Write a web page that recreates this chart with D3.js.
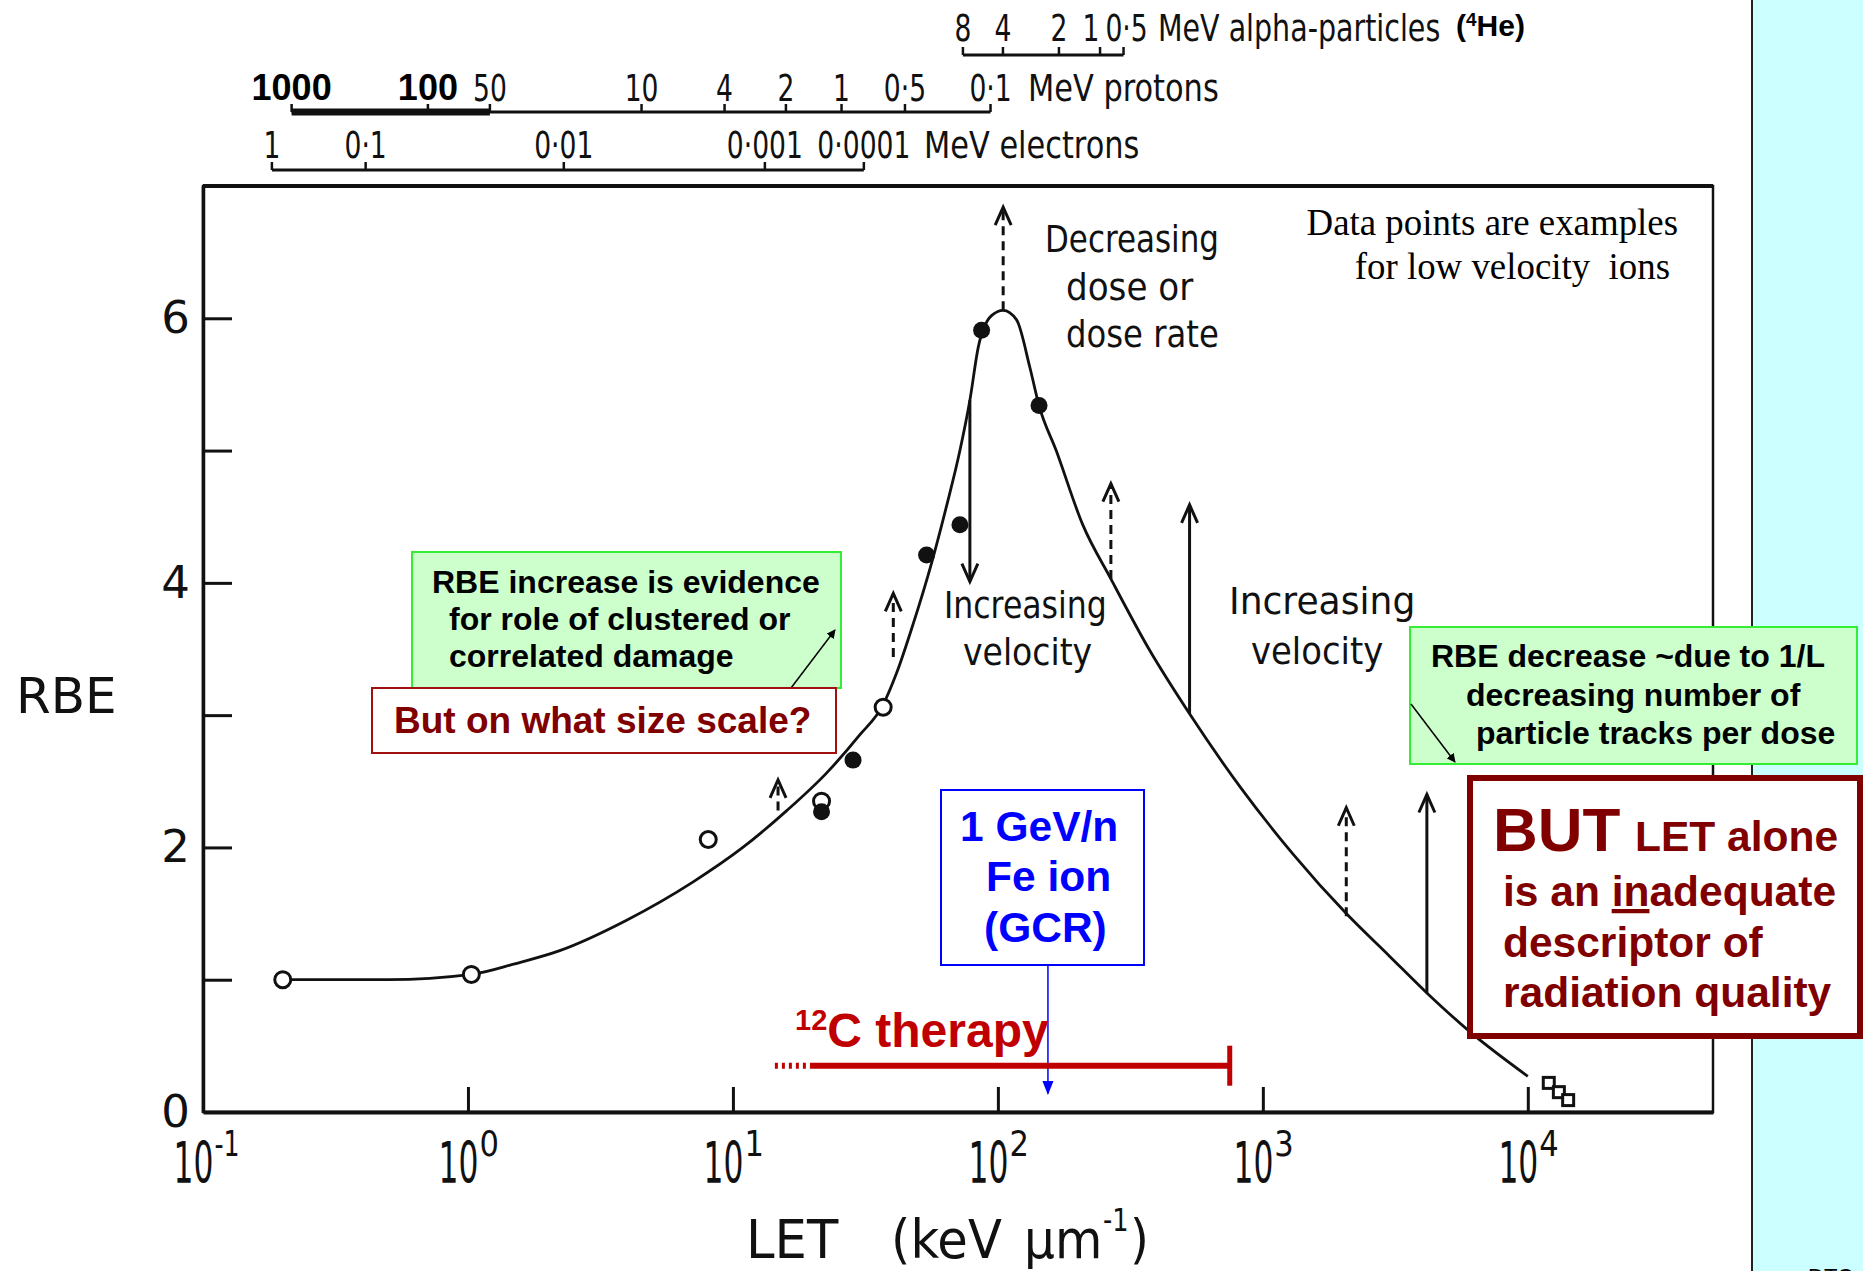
<!DOCTYPE html>
<html>
<head>
<meta charset="utf-8">
<script src="https://cdn.jsdelivr.net/npm/d3@7"></script>
<style>
  body { margin: 0; background: #fff; }
  svg { display: block; }
</style>
</head>
<body>
<div id="chart"></div>
<script>
// RBE curve
const curveLET = [0.2, 0.5, 1.03, 1.5, 2.22, 3.97, 7.08, 10.9, 16, 22.5, 30.1, 36.9, 41.5, 47.9, 56.2, 64, 71.9, 78.4, 84.3, 94.6, 104.7, 117.5, 132, 143, 166, 209, 267, 374, 529, 826, 1300, 2065, 3000, 4160, 6100, 10000];
const curveRBE = [1.0, 1.0, 1.04, 1.12, 1.22, 1.45, 1.74, 2.0, 2.28, 2.56, 2.85, 3.08, 3.32, 3.69, 4.15, 4.58, 5.0, 5.38, 5.78, 6.02, 6.06, 5.99, 5.63, 5.34, 5.0, 4.44, 4.03, 3.49, 3.01, 2.45, 1.95, 1.5, 1.18, 0.9, 0.6, 0.27];

// data points
const openLET = [0.2, 1.03, 8.07, 36.9, 21.6];
const openRBE = [1.0, 1.04, 2.06, 3.06, 2.35];
const fillLET = [21.6, 28.4, 53.8, 71.9, 86.8, 143];
const fillRBE = [2.27, 2.66, 4.21, 4.44, 5.91, 5.34];
const sqLET = [12000, 13100, 14200];
const sqRBE = [0.22, 0.15, 0.09];

// vertical arrows (dose / velocity effects)
const arrowLET = [104.7, 78.4, 40.3, 14.8, 267, 529, 2065, 4160];
const arrowFrom = [6.06, 5.38, 3.44, 2.28, 4.03, 3.01, 1.48, 0.9];
const arrowTo = [6.84, 4.01, 3.92, 2.51, 4.75, 4.59, 2.30, 2.40];
const arrowDashed = [true, false, true, true, true, false, true, false];

// axes
const xTicks = [0.1, 1, 10, 100, 1000, 10000];
const xTickExp = ["-1", "0", "1", "2", "3", "4"];
const yTicks = [0, 1, 2, 3, 4, 5, 6];
const yLabels = [0, 2, 4, 6];

// energy scales on top (MeV label, LET position)
const alphaMeV = ["8", "4", "2", "1", "0·5"];
const alphaLET = [73.8, 104.5, 170, 243, 298];
const protonMeV = ["1000", "100", "50", "10", "4", "2", "1", "0·5", "0·1"];
const protonLET = [0.216, 0.706, 1.21, 4.52, 9.3, 15.85, 25.7, 44.6, 93.8];
const electronMeV = ["1", "0·1", "0·01", "0·001", "0·0001"];
const electronLET = [0.182, 0.411, 2.30, 13.2, 31.2];

// carbon therapy range and Fe ion
const carbonLET = [14.4, 19.7, 750];
const carbonRBE = 0.35;
const feLET = 154.5;
const feRBE = [1.11, 0.14];

const W = 1863, H = 1271;
const HAND = "DejaVu Sans";
const BOLD = "Liberation Sans, Arial, sans-serif";
const MAROON = "#800000";

const svg = d3.select("#chart").append("svg")
  .attr("width", W).attr("height", H)
  .style("background", "#fff");

const defs = svg.append("defs");
defs.append("marker").attr("id", "ahBlack")
  .attr("viewBox", "0 0 10 10").attr("refX", 9).attr("refY", 5)
  .attr("markerWidth", 9).attr("markerHeight", 9)
  .attr("markerUnits", "userSpaceOnUse").attr("orient", "auto")
  .append("path").attr("d", "M0,0 L10,5 L0,10 z").attr("fill", "#000");
defs.append("marker").attr("id", "ahBlue")
  .attr("viewBox", "0 0 10 10").attr("refX", 9).attr("refY", 5)
  .attr("markerWidth", 14).attr("markerHeight", 14)
  .attr("markerUnits", "userSpaceOnUse").attr("orient", "auto")
  .append("path").attr("d", "M0,1 L10,5 L0,9 z").attr("fill", "#0000ff");

// cyan side panel
svg.append("rect").attr("x", 1752).attr("y", 0).attr("width", W - 1752).attr("height", H)
  .attr("fill", "#ccffff");
svg.append("line").attr("x1", 1752).attr("x2", 1752).attr("y1", 0).attr("y2", H)
  .attr("stroke", "#222").attr("stroke-width", 2);
svg.append("text").attr("x", 1808).attr("y", 1284).attr("font-family", "Liberation Sans")
  .attr("font-size", 22).text("DTC");

// scales
const x = d3.scaleLog().domain([0.1, 50000]).range([203, 1713]);
const y = d3.scaleLinear().domain([0, 7]).range([1112, 186]);

// lettering helper: condensed technical-drawing style text
function letter(sel, px, py, txt, size, sx, anchor) {
  const g = sel.append("g").attr("transform", `translate(${px},${py}) scale(${sx},1)`);
  g.append("text").attr("font-family", HAND).attr("font-size", size)
    .attr("text-anchor", anchor || "start").attr("fill", "#111").text(txt);
  return g;
}

// frame
const plot = svg.append("g");
plot.append("rect").attr("x", x.range()[0]).attr("y", y(7))
  .attr("width", x.range()[1] - x.range()[0]).attr("height", y(0) - y(7))
  .attr("fill", "none").attr("stroke", "#111").attr("stroke-width", 2.5);
plot.append("line").attr("x1", x.range()[0]).attr("x2", x.range()[1])
  .attr("y1", y(7)).attr("y2", y(7)).attr("stroke", "#111").attr("stroke-width", 4);

// x axis: inward ticks, labels drawn as 10^n
const xAxis = d3.axisBottom(x).tickValues(xTicks).tickSizeInner(-25).tickSizeOuter(0).tickFormat("");
const xAxisG = plot.append("g").attr("transform", `translate(0,${y(0)})`).call(xAxis);
xAxisG.select(".domain").attr("stroke", "#111").attr("stroke-width", 4);
xAxisG.selectAll(".tick line").attr("stroke", "#111").attr("stroke-width", 3)
  .filter(d => d === xTicks[0]).remove();
xAxisG.selectAll(".tick").each(function (d, i) {
  const t = d3.select(this);
  letter(t, 10, 71, "10", 56, 0.56, "end");
  letter(t, 11, 44, xTickExp[i], 36, xTickExp[i].length > 1 ? 0.7 : 0.85, "start");
});

// y axis: inward ticks
const yAxis = d3.axisLeft(y).tickValues(yTicks).tickSizeInner(-29).tickSizeOuter(0).tickPadding(13)
  .tickFormat(d => yLabels.includes(d) ? d : "");
const yAxisG = plot.append("g").attr("transform", `translate(${x.range()[0]},0)`).call(yAxis);
yAxisG.select(".domain").attr("stroke", "#111").attr("stroke-width", 3.5);
yAxisG.selectAll(".tick line").attr("stroke", "#111").attr("stroke-width", 3)
  .filter(d => d === 0).remove();
yAxisG.selectAll(".tick text").attr("font-family", HAND).attr("font-size", 45).attr("fill", "#111");

// axis titles
svg.append("text").attr("x", 16).attr("y", 713).attr("font-family", HAND)
  .attr("font-size", 50).attr("fill", "#111").text("RBE");
letter(svg, 746, 1258, "LET", 54, 0.95);
letter(svg, 891, 1258, "(keV", 54, 0.92);
letter(svg, 1024, 1258, "μm", 54, 0.9);
letter(svg, 1103, 1231, "-1", 32, 0.8);
letter(svg, 1130, 1258, ")", 54, 0.9);

// RBE curve
const line = d3.line().x(d => x(d[0])).y(d => y(d[1])).curve(d3.curveMonotoneX);
plot.append("path").datum(curveLET.map((v, i) => [v, curveRBE[i]]))
  .attr("d", line).attr("fill", "none").attr("stroke", "#111").attr("stroke-width", 2.8);

// arrows
arrowLET.forEach((L, i) => {
  const ax = x(L), y0 = y(arrowFrom[i]), y1 = y(arrowTo[i]);
  const dir = y1 < y0 ? 1 : -1;
  plot.append("line").attr("x1", ax).attr("x2", ax).attr("y1", y0).attr("y2", y1)
    .attr("stroke", "#111").attr("stroke-width", 3)
    .attr("stroke-dasharray", arrowDashed[i] ? "9,6" : null);
  plot.append("polyline")
    .attr("points", `${ax - 8},${y1 + dir * 18} ${ax},${y1} ${ax + 8},${y1 + dir * 18}`)
    .attr("fill", "none").attr("stroke", "#111").attr("stroke-width", 3);
});

// data markers
plot.selectAll(".open").data(openLET).enter().append("circle").attr("class", "open")
  .attr("cx", d => x(d)).attr("cy", (d, i) => y(openRBE[i])).attr("r", 8)
  .attr("fill", "#fff").attr("stroke", "#111").attr("stroke-width", 3);
plot.selectAll(".fill").data(fillLET).enter().append("circle").attr("class", "fill")
  .attr("cx", d => x(d)).attr("cy", (d, i) => y(fillRBE[i])).attr("r", 8.5)
  .attr("fill", "#111");
plot.selectAll(".sq").data(sqLET).enter().append("rect").attr("class", "sq")
  .attr("x", d => x(d) - 5.5).attr("y", (d, i) => y(sqRBE[i]) - 5.5)
  .attr("width", 11).attr("height", 11)
  .attr("fill", "#fff").attr("stroke", "#111").attr("stroke-width", 3);

// lettering inside the plot
letter(svg, 1045, 252, "Decreasing", 38, 0.815);
letter(svg, 1066, 300, "dose  or", 38, 0.9);
letter(svg, 1066, 347, "dose rate", 38, 0.85);
letter(svg, 944, 618, "Increasing", 38, 0.83);
letter(svg, 963, 665, "velocity", 38, 0.87);
letter(svg, 1229, 614, "Increasing", 38, 0.95);
letter(svg, 1251, 664, "velocity", 38, 0.89);

const serif = svg.append("g").attr("font-family", "Liberation Serif, serif").attr("font-size", 38);
serif.append("g").attr("transform", "translate(1678,235) scale(0.97,1)")
  .append("text").attr("text-anchor", "end").text("Data points are examples");
serif.append("g").attr("transform", "translate(1670,279) scale(0.97,1)")
  .append("text").attr("text-anchor", "end").attr("xml:space", "preserve").text("for low velocity  ions");

// top energy scales
const topG = svg.append("g");
function scaleBar(lets, labels, lineY, tickTop, labelY, size, dx) {
  topG.append("line").attr("x1", x(lets[0])).attr("x2", x(lets[lets.length - 1]))
    .attr("y1", lineY).attr("y2", lineY).attr("stroke", "#111").attr("stroke-width", 3);
  lets.forEach((L, i) => {
    topG.append("line").attr("x1", x(L)).attr("x2", x(L)).attr("y1", lineY).attr("y2", tickTop)
      .attr("stroke", "#111").attr("stroke-width", 2.5);
    if (labels[i] !== "1000" && labels[i] !== "100")
      letter(topG, x(L) + (dx ? dx[i] : 0), labelY, labels[i], size, 0.7, "middle");
  });
}
scaleBar(alphaLET, alphaMeV, 55, 47, 41, 38, [0, 0, 0, -9, 3]);
letter(topG, 1158, 41, "MeV alpha-particles", 38, 0.75);
const he = topG.append("text").attr("x", 1456).attr("y", 36).attr("font-family", BOLD)
  .attr("font-weight", "bold").attr("font-size", 30);
he.append("tspan").text("(");
he.append("tspan").attr("font-size", 19).attr("dy", -10).text("4");
he.append("tspan").attr("dy", 10).text("He)");

scaleBar(protonLET, protonMeV, 112, 104, 101, 38);
topG.append("line").attr("x1", x(protonLET[0])).attr("x2", x(protonLET[2]))
  .attr("y1", 112).attr("y2", 112).attr("stroke", "#111").attr("stroke-width", 7);
[0, 1].forEach(i => {
  topG.append("text").attr("x", x(protonLET[i])).attr("y", 100).attr("text-anchor", "middle")
    .attr("font-family", BOLD).attr("font-weight", "bold").attr("font-size", 36).text(protonMeV[i]);
});
letter(topG, 1028, 101, "MeV protons", 38, 0.8);

scaleBar(electronLET, electronMeV, 170, 162, 158, 38);
letter(topG, 924, 158, "MeV electrons", 38, 0.8);

// annotation: green box left
const ann = svg.append("g").attr("font-family", BOLD).attr("font-weight", "bold");
ann.append("rect").attr("x", 412).attr("y", 552).attr("width", 429).attr("height", 136)
  .attr("fill", "#ccffcc").attr("stroke", "#33ee33").attr("stroke-width", 2);
[["RBE increase is evidence", 432, 593], ["for role of clustered or", 449, 630], ["correlated damage", 449, 667]]
  .forEach(t => ann.append("text").attr("x", t[1]).attr("y", t[2]).attr("font-size", 32).text(t[0]));
ann.append("line").attr("x1", 791).attr("y1", 688).attr("x2", 835).attr("y2", 630)
  .attr("stroke", "#000").attr("stroke-width", 1.5).attr("marker-end", "url(#ahBlack)");

// red box "But on what size scale?"
ann.append("rect").attr("x", 372).attr("y", 688).attr("width", 464).attr("height", 65)
  .attr("fill", "#fff").attr("stroke", "#a01010").attr("stroke-width", 2);
ann.append("text").attr("x", 394).attr("y", 733).attr("font-size", 37).attr("fill", MAROON)
  .text("But on what size scale?");

// Fe ion box
ann.append("rect").attr("x", 941).attr("y", 790).attr("width", 203).attr("height", 175)
  .attr("fill", "#fff").attr("stroke", "#0000ff").attr("stroke-width", 2);
[["1 GeV/n", 960, 841], ["Fe ion", 986, 891], ["(GCR)", 984, 942]]
  .forEach(t => ann.append("text").attr("x", t[1]).attr("y", t[2]).attr("font-size", 42.5)
    .attr("fill", "#0000ff").text(t[0]));
ann.append("line").attr("x1", x(feLET)).attr("x2", x(feLET)).attr("y1", y(feRBE[0])).attr("y2", y(feRBE[1]))
  .attr("stroke", "#0000ff").attr("stroke-width", 1.5).attr("marker-end", "url(#ahBlue)");

// carbon therapy
ann.append("line").attr("x1", x(carbonLET[0])).attr("x2", x(carbonLET[1]))
  .attr("y1", y(carbonRBE)).attr("y2", y(carbonRBE))
  .attr("stroke", "#c00000").attr("stroke-width", 6).attr("stroke-dasharray", "3,4");
ann.append("line").attr("x1", x(carbonLET[1])).attr("x2", x(carbonLET[2]))
  .attr("y1", y(carbonRBE)).attr("y2", y(carbonRBE))
  .attr("stroke", "#c00000").attr("stroke-width", 6);
ann.append("line").attr("x1", x(carbonLET[2])).attr("x2", x(carbonLET[2]))
  .attr("y1", y(carbonRBE) - 20).attr("y2", y(carbonRBE) + 20)
  .attr("stroke", "#c00000").attr("stroke-width", 5);
const ct = ann.append("text").attr("x", 795).attr("y", 1047).attr("fill", "#c00000").attr("font-size", 48);
ct.append("tspan").attr("font-size", 29).attr("dy", -17).text("12");
ct.append("tspan").attr("dy", 17).text("C therapy");

// green box right
ann.append("rect").attr("x", 1410).attr("y", 627).attr("width", 447).attr("height", 137)
  .attr("fill", "#ccffcc").attr("stroke", "#33ee33").attr("stroke-width", 2);
[["RBE decrease ~due to 1/L", 1431, 667], ["decreasing number of", 1466, 706], ["particle tracks per dose", 1476, 744]]
  .forEach(t => ann.append("text").attr("x", t[1]).attr("y", t[2]).attr("font-size", 32).text(t[0]));
ann.append("line").attr("x1", 1411).attr("y1", 704).attr("x2", 1455).attr("y2", 762)
  .attr("stroke", "#000").attr("stroke-width", 1.5).attr("marker-end", "url(#ahBlack)");

// BUT box
ann.append("rect").attr("x", 1470).attr("y", 778).attr("width", 390).attr("height", 258)
  .attr("fill", "#fff").attr("stroke", MAROON).attr("stroke-width", 6);
ann.append("text").attr("x", 1493).attr("y", 851).attr("font-size", 62).attr("fill", MAROON).text("BUT");
ann.append("text").attr("x", 1635).attr("y", 851).attr("font-size", 42.5).attr("fill", MAROON).text("LET alone");
const l2 = ann.append("text").attr("x", 1503).attr("y", 906).attr("font-size", 42.5).attr("fill", MAROON);
l2.append("tspan").text("is an ");
l2.append("tspan").attr("text-decoration", "underline").text("in");
l2.append("tspan").text("adequate");
ann.append("text").attr("x", 1503).attr("y", 957).attr("font-size", 42.5).attr("fill", MAROON).text("descriptor of");
ann.append("text").attr("x", 1503).attr("y", 1007).attr("font-size", 42.5).attr("fill", MAROON).text("radiation quality");
</script>
</body>
</html>
